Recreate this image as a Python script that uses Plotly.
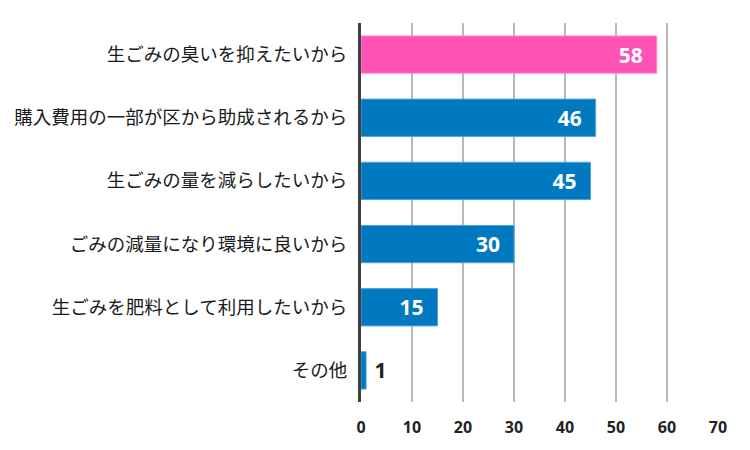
import plotly.graph_objects as go

categories = ["生ごみの臭いを抑えたいから", "購入費用の一部が区から助成されるから", "生ごみの量を減らしたいから",
              "ごみの減量になり環境に良いから", "生ごみを肥料として利用したいから", "その他"]
values = [58, 46, 45, 30, 15, 1]
bar_colors = ["#FF52B6", "#0079C1", "#0079C1", "#0079C1", "#0079C1", "#0079C1"]
line_colors = ["#FF8FD0", "#4FA3DD", "#4FA3DD", "#4FA3DD", "#4FA3DD", "#4FA3DD"]
tick_vals = [0, 10, 20, 30, 40, 50, 60, 70]

text_pos = ["inside" if v > 5 else "outside" for v in values]
text_col = ["white" if v > 5 else "#222222" for v in values]
labels = [f"{v}  " if v > 5 else f" {v}" for v in values]

fig = go.Figure(go.Bar(
    y=categories, x=values, orientation="h",
    marker=dict(color=bar_colors, line=dict(color=line_colors, width=1)),
    text=labels, textposition=text_pos,
    insidetextanchor="end",
    textfont=dict(family="Open Sans, Noto Sans", size=21, color=text_col, weight="bold"),
    outsidetextfont=dict(family="Open Sans, Noto Sans", size=21, color="#222222", weight="bold"),
    cliponaxis=False,
))

fig.update_layout(
    width=750, height=450,
    margin=dict(l=361, r=32, t=23, b=48),
    plot_bgcolor="white", paper_bgcolor="white",
    bargap=0.41, showlegend=False,
    xaxis=dict(range=[0, 70], tickvals=tick_vals, showgrid=True, gridcolor="#B8B8B8", gridwidth=1.5,
               zeroline=False, showline=False, automargin=False,
               tickfont=dict(family="Open Sans, Noto Sans", size=16, color="#222222", weight="bold"),
               ticks="", ticklen=0, ticklabelstandoff=14),
    yaxis=dict(autorange="reversed", showline=True, linecolor="#404040", linewidth=3, automargin=False,
               tickfont=dict(family="Noto Sans CJK JP", size=18.5, color="#1a1a1a"),
               ticks="", ticklabelstandoff=7),
)
fig.write_html("out.html", post_script="document.body.style.margin='0';",
               config={"displayModeBar": False})
